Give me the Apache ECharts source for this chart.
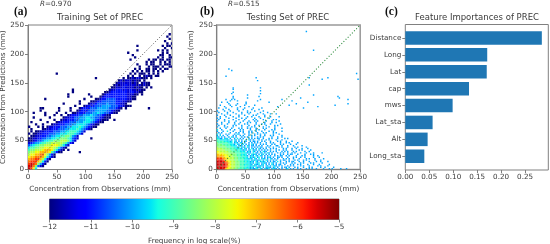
<!DOCTYPE html>
<html><head><meta charset="utf-8">
<style>html,body{margin:0;padding:0;background:#fff}#c{width:550px;height:244px}</style>
<script src="https://cdn.jsdelivr.net/npm/echarts@6/dist/echarts.min.js"></script>
</head><body><div id="c"></div>
<script>
// Density rows, bottom row first. Each segment is "startBin:levels"; '.' is an empty bin.
const trainBin = 4;
const testBin = 2.5;
const levelValues = [-12,-11.5,-11,-10.5,-10,-9.5,-9,-8.5,-8,-7.5,-7,-6.5,-6,-5.5];
const trainRows = [
"0:dc95","0:ddb7310","0:cdcb7420","0:bccca8520","0:abbcca8520","0:9aabbba85310","0:899aabb97420",
"0:78899aaaa964200 22:0","0:6778889aaa975310.0","0:56677889999875310","0:345667788899987531",
"0:12344566778888876421","0:001233455667778887531","0:0011223344556677765321 27:0",
"0:.001122233445566776431","0:0.0011222333445556665431","0:.0.0011222233344556665431",
"1:0 6:0011222333445556543210","0:0 4:0.0 8:0112223334455565432100","3:0 6:0 10:011222333445555432100",
"1:0 8:0 12:011222333444555432100","5:0 11:0 14:011222334445554321000 37:0",
"2:0 9:0 15:011223344455443321000","7:0 11:0 14:0 17:0122233444544332100",
"2:0 7:0 12:0 16:0 19:00122233344544332100","5:0 13:0 18:0 21:0122233344444332100",
"5:00 13:0 18:0 22:0122233344444333210.0 52:0","20:0 24:012223334444333221000","15:0 22:0 26:01223333433322110",
"22:0 27:001223333332221100","7:0 24:0 29:001223333222221100","17:0 27:0 31:0122222222221100",
"17:0 26:0 32:0122222222211100.0","19:0 33:00122222221221100","19:0 35:0112221212110100",
"36:00111211110100.0.0","37:0101121111010100","38:0111111010.0100","39:0101110100.0",
"29:0 41:0.001011000.0","43:0.0..0.0100.00","12:0 44:0.0.000.0.0.0","45:0.0.0.00.0.0.0",
"46:0.0..00.00.0.00","48:0...0.000.0..00","47:0...0.00..0.000","51:0.00..0.0.0..0","44:0 52:0.00.00.00",
"46:0 56:0.0..00","45:0 57:00..0..0","43:0 58:0.0..0","47:0 56:0.0.0","59:0..0","47:0 58:0.00","60:0.0","59:0","61:0","60:0","61:0"
];
const testRows = [
"0:dddddca9988877766665565454455.54.5445.4544.4.4..45.4.4..4.4...4.4.4..4....4...4.4.....4...4",
"0:ddddddca998887776666555454.5445.4.4544.45.4..4.44.4...4.4...4...4.4.....4..4.....4",
"0:ddddddcba9888777666565545545.4454.54.4.544.4.4...4.4.4....4.4...4.....4.4....4",
"0:ddddddcb99888777666556554.5445.45.4.4.54.4.44..4...4.4..4.4....4...4...4......4",
"0:ddddddcba98887776666555454.545.4544.4.54.4..4.4.4...4.4...4.4....4.4.....4",
"0:dddddcba998887776665655454.54.4545.4.4.44.5.4...4.4.44...4..4...4....4..4....4",
"0:cdddcba9988877766665555.4545445.4.54.4.4.4..4.44..4...4.4...4.4.....4...4",
"0:ccccbaa998887776666555454.54.5.454.4.54.4.4...4.4.4..4...4....4.4...4.....4",
"0:bbbbaa9998887776665655.4545.45.4.4.454.4..44.4...4...4.4..4..4.....4...4",
"0:aaaaa99988877766656554.454.54.54.4.4.4..4.4.44..4.4....4...4.4.....4..4",
"0:aa9a99988887776665555.4.5454.4.45.4.4.4.4...4.4..4.44...4....4...4.4",
"0:999998888777766665655454.5.44.54.4.54.4...4.4.4..4..4.4...4...4....4.....4",
"0:99888888777666665555.454.54.4.4.544..4.4.4...4.4.4...4.4.....4..4",
"0:888888777766665655454.45.454.4.4.4.4.4...4.4..4.4...4....4.4.....4",
"0:888877777666655554.54.4.54.4.54.4.4..4.4.4....4.4...4..4...4...4",
"0:8777777666665545.454.54.4.4.4.44..4.4..4...4.4...4....4.4.....4",
"0:77777766665555.454.4.54.44.4.4.4...4.4...44..4...4...4.....4",
"0:7777666665554.54.45.4.4.54.4..4.4.4...4.4...4.4....4...4",
"0:76666666555.454.54.4..4.4.4.4.4...4..4.4....4...4.4.....4",
"0:66666555545.54.4.4.54..4.44.4..4.4...4....4.4...4...4",
"0:665555545.4.54.4.4..4.54.4...4.4..4.4....4...4",
"0:5544.545.4..4.5.4.4...4.4.4.44..4...4.4...4....4.4",
"0:54.4.4..4.54.4...4.4.4..4...4.4.4.....4...4..4",
"0:4.5.4..4...4.4..4.4...4.4.4...4..4...4.4.....4",
"0:5.4...4.4...4.54...4..4...4.4.4..4.....4...4",
"1:4.4.....4...4.4..4...4.4...4...4.4....4.4",
"0:4...4..5...4....4.4...4.4..4...4....4..4.....4",
"0:5..4.....4..4...4.4....4...4.4...4....4.4",
"2:4...4...4....4.4...4.4...4....4.4.....4....4",
"0:4....4.4...4.....4...4..4.4.....4...4...4",
"1:4...4.....4.4...4....4...4..4....4.....4.4",
"0:4..4...4....4..4...4.4.....4...4.4...4......4",
"3:4....4...4...4....4.4...4.....4....4..4",
"0:4....4..4....4....4...4...4.4.....4...4....4",
"1:4...4.....4...4...4.....4.4....4......4.4",
"0:4.4.....4....4...4..4.....4...4.....4",
"2:4...4....4...4.....4..4....4...4...4.....4",
"0:4....4...4.....4...4.....4.4.....4",
"3:4...4.....4...4....4.....4...4....4...4",
"1:4.....4...4.....4...4.4......4....4",
"0:4....4...4.....4.....4....4.....4",
"4:4...4.....4...4.....4....4",
"1:4....4.......4....4.....4.....4 60:4",
"5:4....4.....4.....4 42:4 70:4",
"2:4......4...4.....4......4 50:4 82:4",
"8:4.....4.....4 55:4 91:4",
"3:4...4 20:4 36:4 63:4",
"9:4....4 28:4 52:4",
"6:4...4.4 30:4 45:4 91:4",
"11:4 21:4 58:4 85:4",
"11:4 29:4 84:4",
"21:4 67:4",
"10:4 30:4",
"11:4",
"30:4",
"11:4",
"11:4 30:4",
"",
"64:4",
"",
"",
"28:4",
"73:4 98:4",
"27:4 64:4 77:4",
"6:4","","97:4","","10:4","8:4",
"","","","","","","","","","","","",
"67:4",
"","","","","","","","","","","","",
"62:4"
];
const diagonal = [[0,0],[250,250]];
const featureNames = ['Distance','Long','Lat','cap','mws','Lat_sta','Alt','Long_sta'];
const featureValues = [0.285,0.171,0.170,0.133,0.0988,0.057,0.0466,0.0397];
const featureTicks = [0,0.05,0.10,0.15,0.20,0.25];
const colorRange = [-12,-5];

function cells(rows,bin){
  const out=[];
  rows.forEach((row,j)=>row.split(' ').filter(Boolean).forEach(seg=>{
    const [s,lv]=seg.split(':');
    [...lv].forEach((ch,k)=>{
      if(ch==='.')return;
      const i=+s+k;
      out.push([i*bin,j*bin,(i+1)*bin,(j+1)*bin,levelValues[parseInt(ch,16)]]);
    });
  }));
  return out;
}
function ramp(t,pts){
  for(let i=1;i<pts.length;i++){
    if(t<=pts[i][0]){const a=pts[i-1],b=pts[i];return a[1]+(b[1]-a[1])*(t-a[0])/(b[0]-a[0]);}
  }
  return pts[pts.length-1][1];
}
function jet(t){
  const r=ramp(t,[[0,0],[.35,0],[.66,1],[.89,1],[1,.5]]);
  const g=ramp(t,[[0,0],[.125,0],[.375,1],[.64,1],[.91,0],[1,0]]);
  const b=ramp(t,[[0,.5],[.11,1],[.34,1],[.65,0],[1,0]]);
  return `rgb(${Math.round(r*255)},${Math.round(g*255)},${Math.round(b*255)})`;
}
const toT=v=>(v-colorRange[0])/(colorRange[1]-colorRange[0]);
function heat(gridIndex,data){
  return {type:'custom',xAxisIndex:gridIndex,yAxisIndex:gridIndex,data,clip:true,z:2,
    encode:{x:[0,2],y:[1,3]},progressive:0,
    renderItem:(p,api)=>{
      const a=api.coord([api.value(0),api.value(1)]),b=api.coord([api.value(2),api.value(3)]);
      return {type:'rect',shape:{x:a[0],y:b[1],width:b[0]-a[0],height:a[1]-b[1]},
        style:{fill:jet(toT(api.value(4)))}};
    }};
}
const txt='#3a3a3a', spine='#808080';
const axLine={lineStyle:{color:spine,width:1}}, axTick={length:3,lineStyle:{color:spine,width:1}};
const fs=7.2;
function densityAxes(idx){
  const base={type:'value',gridIndex:idx,min:0,max:250,interval:50,splitLine:{show:false},
    axisLine:{show:true,...axLine},axisTick:{show:true,...axTick},nameLocation:'middle',
    nameTextStyle:{color:txt,fontSize:7.2,fontFamily:'DejaVu Sans'},
    axisLabel:{color:txt,fontSize:fs,fontFamily:'DejaVu Sans',margin:4}};
  return [{...base,name:'Concentration from Observations (mm)',nameGap:15},
          {...base,name:'Concentration from Predictions (mm)',nameGap:17}];
}
const a=densityAxes(0), b=densityAxes(1);
const serif={fontFamily:'Liberation Serif',fontWeight:'bold',fontSize:11.5,color:'#111'};
const sans={fontFamily:'DejaVu Sans',fontWeight:'normal',fontSize:8.5,color:txt};
const rText={fontFamily:'DejaVu Sans',fontWeight:'normal',fontSize:7.2,color:txt,rich:{i:{fontFamily:'DejaVu Sans',fontStyle:'italic',fontSize:7.2,color:txt}}};
const stops=[];for(let i=0;i<=40;i++)stops.push({offset:i/40,color:jet(i/40)});

const chart=echarts.init(document.getElementById('c'),null,{renderer:'canvas'});
const noBounds={outerBoundsMode:'none'};
chart.setOption({
  animation:false,backgroundColor:'#fff',
  title:[
    {text:'(a)',left:14,top:6,textStyle:serif,padding:0},
    {text:'(b)',left:200,top:6,textStyle:serif,padding:0},
    {text:'(c)',left:385,top:6,textStyle:serif,padding:0},
    {text:'{i|R}=0.970',left:40,top:1,textStyle:rText,padding:0},
    {text:'{i|R}=0.515',left:228,top:1,textStyle:rText,padding:0},
    {text:'Training Set of PREC',left:100,top:13,textAlign:'center',textStyle:sans,padding:0},
    {text:'Testing Set of PREC',left:288,top:13,textAlign:'center',textStyle:sans,padding:0},
    {text:'Feature Importances of PREC',left:477,top:13,textAlign:'center',textStyle:sans,padding:0}
  ],
  grid:[
    {...noBounds,left:28,top:25,width:144,height:144.5,show:true,borderColor:spine,borderWidth:1,backgroundColor:'transparent'},
    {...noBounds,left:216.7,top:25,width:143.5,height:144.5,show:true,borderColor:'#999',borderWidth:1.5,backgroundColor:'transparent'},
    {...noBounds,left:405.3,top:29.5,width:143,height:135.2},
    {...noBounds,left:49.5,top:199,width:289.5,height:20.5,show:true,borderColor:spine,borderWidth:1,backgroundColor:'transparent'},
    {...noBounds,left:405.3,top:24.5,width:143,height:145.5,show:true,borderColor:spine,borderWidth:1,backgroundColor:'transparent'}
  ],
  xAxis:[a[0],b[0],
    {type:'value',gridIndex:2,min:0,max:0.2985,offset:5.3,splitLine:{show:false},axisLine:{show:false},
     axisTick:{show:true,...axTick,customValues:featureTicks},
     axisLabel:{color:txt,fontSize:fs,fontFamily:'DejaVu Sans',margin:4,customValues:featureTicks,formatter:v=>v.toFixed(2)}},
    {type:'value',gridIndex:3,min:colorRange[0],max:colorRange[1],interval:1,splitLine:{show:false},
     axisLine:{show:true,...axLine},axisTick:{show:true,...axTick},
     name:'Frequency in log scale(%)',nameLocation:'middle',nameGap:18,
     nameTextStyle:{color:txt,fontSize:7.2,fontFamily:'DejaVu Sans'},
     axisLabel:{color:txt,fontSize:fs,fontFamily:'DejaVu Sans',margin:4,formatter:v=>String(v).replace('-','\u2212')}}
  ],
  yAxis:[a[1],b[1],
    {type:'category',gridIndex:2,data:featureNames,inverse:true,axisLine:{show:false},
     axisTick:{show:true,alignWithLabel:true,...axTick},
     axisLabel:{color:txt,fontSize:fs,fontFamily:'DejaVu Sans',margin:4}},
    {type:'value',gridIndex:3,min:0,max:1,show:false}
  ],
  series:[
    heat(0,cells(trainRows,trainBin)),
    {type:'line',xAxisIndex:0,yAxisIndex:0,data:diagonal,symbol:'none',z:5,silent:true,lineStyle:{color:'#555',width:1,type:[1,2]}},
    heat(1,cells(testRows,testBin)),
    {type:'line',xAxisIndex:1,yAxisIndex:1,data:diagonal,symbol:'none',z:5,silent:true,lineStyle:{color:'#2a8a3a',width:1.1,type:[1,2]}},
    {type:'bar',xAxisIndex:2,yAxisIndex:2,data:featureValues,barWidth:'80%',itemStyle:{color:'#1f77b4'}},
    {type:'custom',xAxisIndex:3,yAxisIndex:3,data:[colorRange],encode:{x:[0,1]},clip:false,
     renderItem:(p,api)=>{
       const l=api.coord([api.value(0),0]),r=api.coord([api.value(1),1]);
       return {type:'rect',shape:{x:l[0],y:r[1],width:r[0]-l[0],height:l[1]-r[1]},
         style:{fill:new echarts.graphic.LinearGradient(0,0,1,0,stops)}};
     }}
  ]
});
</script></body></html>
